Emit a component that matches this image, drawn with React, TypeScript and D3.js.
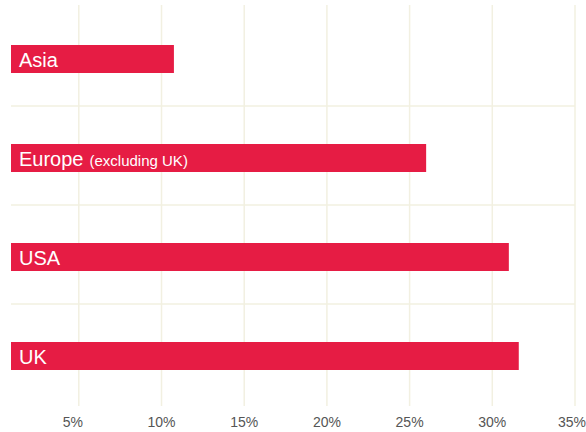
import React from "react";
import * as d3 from "d3";

const categories = ["Asia", "Europe", "USA", "UK"];
const subLabels = ["", "(excluding UK)", "", ""];
const values = [10.75, 26.0, 31.0, 31.6];
const ticks = [5, 10, 15, 20, 25, 30, 35];

const W = 586;
const H = 432;
const BAR = "#e61c44";
const GRID = "#f2f0e1";

export default function App() {
  const x = d3.scaleLinear().domain([0.9, 35]).range([11, 575]);
  const y = d3.scaleBand<string>().domain(categories).range([8, 404]);
  const barOffset = 37;
  const barH = 28;
  const font = "'Liberation Sans', Arial, sans-serif";

  return (
    <div style={{ position: "fixed", left: 0, top: 0 }}>
      <svg width={W} height={H} style={{ display: "block", background: "#fff" }}>
        {ticks.map((t) => (
          <line
            key={"v" + t}
            x1={x(t)}
            x2={x(t)}
            y1={5}
            y2={406}
            stroke={GRID}
            strokeWidth={1.5}
          />
        ))}
        {categories.slice(1).map((c) => (
          <line
            key={"h" + c}
            x1={x.range()[0]}
            x2={x.range()[1]}
            y1={(y(c) as number) - 1}
            y2={(y(c) as number) - 1}
            stroke={GRID}
            strokeWidth={1.5}
          />
        ))}
        {categories.map((c, i) => (
          <g key={c}>
            <rect
              x={x(0.9)}
              y={(y(c) as number) + barOffset}
              width={x(values[i]) - x(0.9)}
              height={barH}
              fill={BAR}
            />
            <text
              x={x(0.9) + 8}
              y={(y(c) as number) + barOffset + 22}
              fill="#fff"
              fontFamily={font}
              fontSize={20}
            >
              {c}
              {subLabels[i] ? (
                <tspan fontSize={15} dx={6}>
                  {subLabels[i]}
                </tspan>
              ) : null}
            </text>
          </g>
        ))}
        {ticks.map((t, i) => {
          const px = x(t);
          const isLast = i === ticks.length - 1;
          const isFirst = i === 0;
          return (
            <text
              key={"t" + t}
              x={isLast ? W : px + (isFirst ? -6 : 0)}
              y={427}
              textAnchor={isLast ? "end" : "middle"}
              fill="#555"
              fontFamily={font}
              fontSize={14}
            >
              {t + "%"}
            </text>
          );
        })}
      </svg>
    </div>
  );
}
